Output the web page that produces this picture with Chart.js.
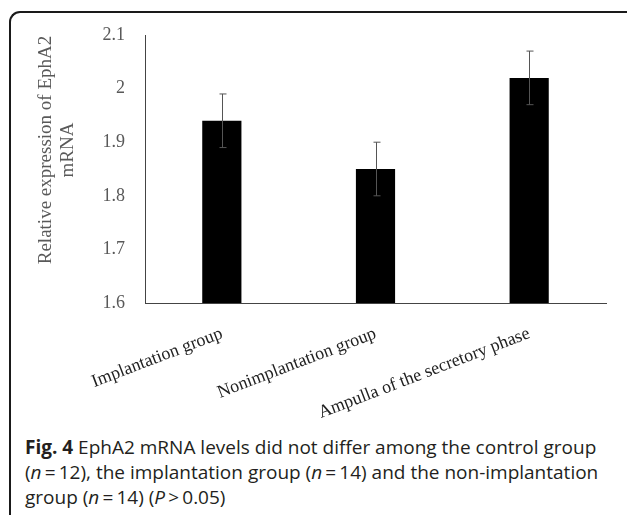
<!DOCTYPE html>
<html>
<head>
<meta charset="utf-8">
<script src="https://cdn.jsdelivr.net/npm/chart.js"></script>
<style>
  html, body { margin: 0; padding: 0; background: #fff; width: 627px; height: 516px; overflow: hidden; }
  #frame {
    position: absolute; left: 9px; top: 11px; width: 660px; height: 502px;
    border-left: 2px solid #1a1a1a; border-top: 2px solid #1a1a1a;
    border-top-left-radius: 11px;
  }
  #wrap { position: absolute; left: 0; top: 0; width: 627px; height: 430px; }
  #caption {
    position: absolute; left: 25px; top: 435px; width: 610px; white-space: nowrap;
    font-family: "Open Sans", sans-serif; font-size: 19px; line-height: 25px; color: #231f20;
  }
  #caption b { font-weight: 700; }
</style>
</head>
<body>
<div id="frame"></div>
<div id="wrap"><canvas id="chart" width="627" height="430"></canvas></div>
<div id="caption"><b>Fig. 4</b> EphA2 mRNA levels did not differ among the control group<br>(<i>n</i>&#8201;=&#8201;12), the implantation group (<i>n</i>&#8201;=&#8201;14) and the non-implantation<br>group (<i>n</i>&#8201;=&#8201;14) (<i>P</i>&#8201;&gt;&#8201;0.05)</div>

<script>
// values
const groups = ['Implantation group', 'Nonimplantation group', 'Ampulla of the secretory phase'];
const expression = [1.94, 1.85, 2.02];
const errors = [0.05, 0.05, 0.05];
const yTicks = [1.6, 1.7, 1.8, 1.9, 2, 2.1];
const yTitle = ['Relative expression of EphA2', 'mRNA'];

// error bars, placed with the y scale
const errorBars = {
  id: 'errorBars',
  afterDatasetsDraw(chart) {
    const ctx = chart.ctx;
    const y = chart.scales.y;
    const meta = chart.getDatasetMeta(0);
    ctx.save();
    ctx.strokeStyle = '#555';
    ctx.lineWidth = 1;
    meta.data.forEach((bar, i) => {
      const x = Math.round(bar.x) + 0.5;
      const top = y.getPixelForValue(expression[i] + errors[i]);
      const bottom = y.getPixelForValue(expression[i] - errors[i]);
      ctx.beginPath();
      ctx.moveTo(x, top);
      ctx.lineTo(x, bottom);
      ctx.moveTo(x - 3, top);
      ctx.lineTo(x + 4, top);
      ctx.moveTo(x - 3, bottom);
      ctx.lineTo(x + 4, bottom);
      ctx.stroke();
    });
    ctx.restore();
  }
};

// y title sits a bit above the middle of the axis in the original, so draw it by hand
const yTitlePlugin = {
  id: 'yTitle',
  afterDraw(chart) {
    const ctx = chart.ctx;
    ctx.save();
    ctx.fillStyle = '#595959';
    ctx.font = '19px "Liberation Serif"';
    ctx.textAlign = 'center';
    ctx.textBaseline = 'middle';
    yTitle.forEach((line, i) => {
      ctx.save();
      ctx.translate(46 + i * 22, 150);
      ctx.rotate(-Math.PI / 2);
      ctx.fillText(line, 0, 0);
      ctx.restore();
    });
    ctx.restore();
  }
};

new Chart(document.getElementById('chart'), {
  type: 'bar',
  data: {
    labels: groups,
    datasets: [{
      data: expression,
      backgroundColor: '#000',
      barPercentage: 0.255,
      categoryPercentage: 1
    }]
  },
  options: {
    responsive: false,
    animation: false,
    layout: { padding: { left: 30, top: 35, right: 21, bottom: 0 } },
    plugins: { legend: { display: false }, tooltip: { enabled: false } },
    scales: {
      x: {
        grid: { display: false },
        border: { color: '#444', width: 1 },
        ticks: {
          minRotation: 21, maxRotation: 21, padding: 12,
          color: '#222',
          font: { family: 'Liberation Serif', size: 18 }
        },
        afterFit(scale) { scale.height = 127; }
      },
      y: {
        min: 1.6, max: 2.1,
        grid: { display: false },
        border: { color: '#444', width: 1 },
        afterBuildTicks(scale) { scale.ticks = yTicks.map(v => ({ value: v })); },
        ticks: {
          padding: 12,
          color: '#595959',
          font: { family: 'Liberation Serif', size: 18 },
          callback: v => String(+v.toFixed(1))
        },
        afterFit(scale) { scale.width = 115; }
      }
    }
  },
  plugins: [errorBars, yTitlePlugin]
});
</script>
</body>
</html>
